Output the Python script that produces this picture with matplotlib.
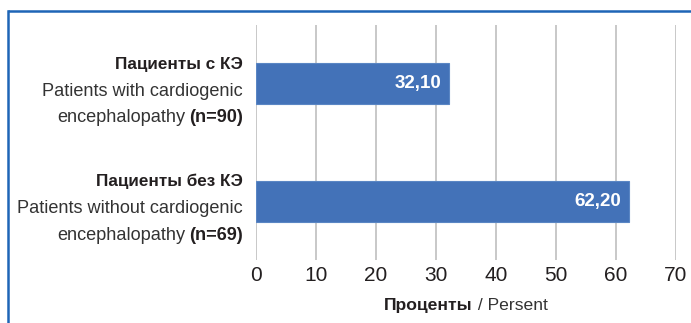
import matplotlib
matplotlib.use("Agg")
import matplotlib.pyplot as plt
from matplotlib.lines import Line2D

plt.rcParams['font.family'] = ['Liberation Sans Narrow', 'Liberation Sans', 'DejaVu Sans']

# ---- data ----
cat_ru = ["Пациенты с КЭ", "Пациенты без КЭ"]
cat_en = ["Patients with cardiogenic", "Patients without cardiogenic"]
cat_en2 = ["encephalopathy", "encephalopathy"]
cat_n = ["(n=90)", "(n=69)"]
values = [32.10, 62.20]
value_labels = ["32,10", "62,20"]
xticks = [0, 10, 20, 30, 40, 50, 60, 70]
xlabel_bold = "Проценты"
xlabel_reg = " / Persent"

W, H = 691, 323
fig = plt.figure(figsize=(W / 100, H / 100), dpi=100)

def px(x, y):
    return x / W, 1 - y / H

ax = fig.add_axes([256 / W, 1 - 260 / H, 420 / W, 235 / H])
ypos = list(range(len(values)))
bar_color = "#4372B8"
ax.barh(ypos, values, height=0.35, color=bar_color, edgecolor="#5A86C4", linewidth=0.8, zorder=3)
ax.set_xlim(0, 70)
ax.set_ylim(len(values) - 0.5, -0.5)
ax.set_xticks(xticks)
ax.set_xticklabels([str(t) for t in xticks], fontsize=15, color="#231F20")
ax.set_yticks([])
ax.tick_params(axis='x', length=0, pad=4)
ax.grid(axis='x', color="#C4C4C4", linewidth=1.3, zorder=0)
for s in ax.spines.values():
    s.set_visible(False)

for i, (v, lab) in enumerate(zip(values, value_labels)):
    ax.annotate(lab, xy=(v, i), xytext=(-5.5, 0), textcoords='offset points',
                ha='right', va='center', color='white', fontsize=13.5, fontweight='bold', zorder=4)

fig.canvas.draw()
renderer = fig.canvas.get_renderer()

def text_width_px(t):
    return t.get_window_extent(renderer).width

right_px = 243
# category labels
for i in ypos:
    yc_disp = ax.transData.transform((0, i))[1]
    yc = H - yc_disp  # pixel from top
    fig.text(*px(right_px, yc - 15), cat_ru[i], ha='right', va='baseline',
             fontsize=12.3, fontweight='bold', color='#231F20')
    fig.text(*px(right_px, yc + 12), cat_en[i], ha='right', va='baseline',
             fontsize=13.1, color='#333333')
    tb = fig.text(*px(right_px, yc + 38.5), cat_n[i], ha='right', va='baseline',
                  fontsize=13.1, fontweight='bold', color='#231F20')
    w = text_width_px(tb)
    fig.text(*px(right_px - w - 4, yc + 38.5), cat_en2[i], ha='right', va='baseline',
             fontsize=13.1, color='#333333')

# x label (mixed weight), centred on axes
cx = 466
tb = fig.text(0, 0, xlabel_bold, fontsize=12.6, fontweight='bold')
tr = fig.text(0, 0, xlabel_reg, fontsize=12.6)
wb = text_width_px(tb)
wr = text_width_px(tr)
total = wb + wr
x0 = cx - total / 2
tb.set_position(px(x0, 310)); tb.set_va('baseline'); tb.set_color('#231F20')
tr.set_position(px(x0 + wb, 310)); tr.set_va('baseline'); tr.set_color('#333333')

# blue frame
frame_color = "#1E65B6"
fig.add_artist(Line2D([8 / W, 1.0], [1 - 11 / H, 1 - 11 / H], transform=fig.transFigure,
                      color=frame_color, linewidth=1.8, solid_capstyle='butt'))
fig.add_artist(Line2D([8 / W, 8 / W], [1 - 11 / H, 0.0], transform=fig.transFigure,
                      color=frame_color, linewidth=1.8, solid_capstyle='projecting'))

fig.savefig("out.png", dpi=100)
